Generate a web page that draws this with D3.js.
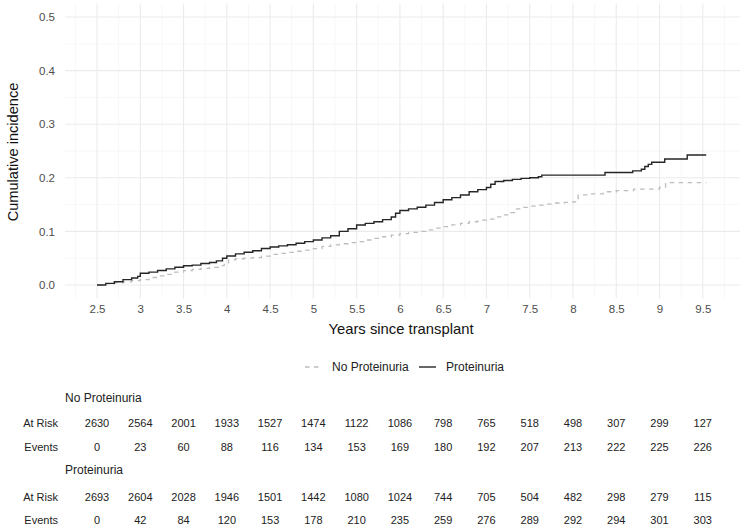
<!DOCTYPE html>
<html>
<head>
<script src="https://cdn.jsdelivr.net/npm/d3@7"></script>
<style>
  body { margin: 0; background: #fff; }
  svg { font-family: "Liberation Sans", Arial, sans-serif; }
</style>
</head>
<body>
<svg id="cif" width="745" height="529"></svg>
<script>
var groups = ["No Proteinuria", "Proteinuria"];
var timeTicks = [2.5, 3, 3.5, 4, 4.5, 5, 5.5, 6, 6.5, 7, 7.5, 8, 8.5, 9, 9.5];
var yTicks = [0, 0.1, 0.2, 0.3, 0.4, 0.5];

// step points
var noProtTime = [2.5, 2.6, 2.7, 2.8, 2.9, 3.0, 3.1, 3.2, 3.3, 3.4, 3.5, 3.6, 3.7, 3.8, 3.9, 3.97, 4.02, 4.1, 4.2, 4.3, 4.4, 4.5, 4.6, 4.7, 4.8, 4.9, 5.0, 5.1, 5.2, 5.3, 5.4, 5.5, 5.6, 5.7, 5.8, 5.9, 6.0, 6.1, 6.2, 6.3, 6.4, 6.5, 6.6, 6.7, 6.8, 6.9, 7.0, 7.1, 7.2, 7.28, 7.35, 7.4, 7.5, 7.6, 7.7, 7.8, 7.9, 8.0, 8.03, 8.06, 8.2, 8.35, 8.5, 8.7, 9.0, 9.07, 9.54];
var noProtCif  = [0, 0.002, 0.004, 0.006, 0.008, 0.010, 0.014, 0.017, 0.020, 0.024, 0.027, 0.029, 0.031, 0.033, 0.036, 0.040, 0.047, 0.049, 0.050, 0.051, 0.054, 0.057, 0.059, 0.061, 0.063, 0.065, 0.068, 0.072, 0.075, 0.077, 0.079, 0.081, 0.084, 0.087, 0.090, 0.093, 0.096, 0.098, 0.100, 0.103, 0.106, 0.109, 0.112, 0.115, 0.118, 0.121, 0.123, 0.127, 0.131, 0.135, 0.142, 0.145, 0.147, 0.149, 0.151, 0.153, 0.154, 0.155, 0.160, 0.168, 0.170, 0.174, 0.176, 0.179, 0.182, 0.191, 0.191];

var protTime = [2.5, 2.6, 2.7, 2.8, 2.9, 2.97, 3.0, 3.1, 3.2, 3.3, 3.4, 3.5, 3.6, 3.7, 3.8, 3.88, 3.95, 4.0, 4.1, 4.2, 4.3, 4.4, 4.5, 4.6, 4.7, 4.8, 4.9, 5.0, 5.1, 5.2, 5.3, 5.4, 5.5, 5.6, 5.7, 5.8, 5.9, 5.95, 6.0, 6.1, 6.2, 6.3, 6.4, 6.5, 6.6, 6.7, 6.8, 6.9, 7.0, 7.05, 7.1, 7.2, 7.3, 7.4, 7.5, 7.6, 7.64, 8.37, 8.69, 8.79, 8.83, 8.87, 8.91, 9.06, 9.32, 9.54];
var protCif  = [0, 0.003, 0.006, 0.010, 0.013, 0.016, 0.022, 0.024, 0.027, 0.030, 0.033, 0.036, 0.037, 0.040, 0.042, 0.045, 0.050, 0.054, 0.058, 0.061, 0.064, 0.068, 0.071, 0.073, 0.075, 0.078, 0.081, 0.084, 0.088, 0.092, 0.100, 0.105, 0.112, 0.115, 0.118, 0.122, 0.127, 0.134, 0.139, 0.142, 0.145, 0.149, 0.154, 0.159, 0.163, 0.168, 0.174, 0.178, 0.182, 0.188, 0.193, 0.195, 0.197, 0.199, 0.200, 0.202, 0.205, 0.210, 0.213, 0.216, 0.221, 0.225, 0.229, 0.235, 0.2425, 0.2425];

var noProtRisk   = [2630, 2564, 2001, 1933, 1527, 1474, 1122, 1086, 798, 765, 518, 498, 307, 299, 127];
var noProtEvents = [0, 23, 60, 88, 116, 134, 153, 169, 180, 192, 207, 213, 222, 225, 226];
var protRisk     = [2693, 2604, 2028, 1946, 1501, 1442, 1080, 1024, 744, 705, 504, 482, 298, 279, 115];
var protEvents   = [0, 42, 84, 120, 153, 178, 210, 235, 259, 276, 289, 292, 294, 301, 303];

var svg = d3.select("#cif");
var x = d3.scaleLinear().domain([2.13, 9.93]).range([65, 740]);
var y = d3.scaleLinear().domain([-0.025, 0.525]).range([298.4, 3.6]);

// grid
var grid = svg.append("g");
var minorX = timeTicks.map(function(t){ return t - 0.25; }).concat([9.75]);
var minorY = yTicks.slice(0, -1).map(function(v){ return v + 0.05; });
grid.selectAll(".mx").data(minorX).enter().append("line")
  .attr("x1", x).attr("x2", x).attr("y1", y.range()[0]).attr("y2", y.range()[1])
  .attr("stroke", "#f2f2f2").attr("stroke-width", 0.6);
grid.selectAll(".my").data(minorY).enter().append("line")
  .attr("x1", x.range()[0]).attr("x2", x.range()[1]).attr("y1", y).attr("y2", y)
  .attr("stroke", "#f2f2f2").attr("stroke-width", 0.6);
grid.selectAll(".gx").data(timeTicks).enter().append("line")
  .attr("x1", x).attr("x2", x).attr("y1", y.range()[0]).attr("y2", y.range()[1])
  .attr("stroke", "#ebebeb").attr("stroke-width", 1.1);
grid.selectAll(".gy").data(yTicks).enter().append("line")
  .attr("x1", x.range()[0]).attr("x2", x.range()[1]).attr("y1", y).attr("y2", y)
  .attr("stroke", "#ebebeb").attr("stroke-width", 1.1);

// axes
var xAxis = svg.append("g").attr("transform", "translate(0," + y.range()[0] + ")")
  .call(d3.axisBottom(x).tickValues(timeTicks).tickSize(0).tickPadding(6.5).tickFormat(d3.format("")));
var yAxis = svg.append("g").attr("transform", "translate(" + x.range()[0] + ",0)")
  .call(d3.axisLeft(y).tickValues(yTicks).tickSize(0).tickPadding(10).tickFormat(d3.format(".1f")));
[xAxis, yAxis].forEach(function(a){
  a.select(".domain").remove();
  a.selectAll("text").attr("fill", "#4d4d4d").style("font-size", "11.5px")
    .style("font-family", "'Liberation Sans', Arial, sans-serif");
});

svg.append("text").attr("x", 401).attr("y", 334).attr("text-anchor", "middle")
  .style("font-size", "14.8px").attr("fill", "#111").text("Years since transplant");
svg.append("text").attr("transform", "translate(18,152) rotate(-90)").attr("text-anchor", "middle")
  .style("font-size", "14.6px").attr("fill", "#111").text("Cumulative incidence");

// curves
var line = d3.line().curve(d3.curveStepAfter)
  .x(function(d){ return x(d[0]); }).y(function(d){ return y(d[1]); });
var series = [
  { pts: d3.zip(noProtTime, noProtCif), color: "#bdbdbd", dash: "4.5,4.5", width: 1.3 },
  { pts: d3.zip(protTime, protCif), color: "#262626", dash: null, width: 1.4 }
];
svg.selectAll(".curve").data(series).enter().append("path")
  .attr("d", function(d){ return line(d.pts); })
  .attr("fill", "none")
  .attr("stroke", function(d){ return d.color; })
  .attr("stroke-width", function(d){ return d.width; })
  .attr("stroke-dasharray", function(d){ return d.dash; });

// legend
var legendX = [305, 419], legendY = 367;
var lg = svg.selectAll(".lg").data(series).enter().append("g");
lg.append("line")
  .attr("x1", function(d, i){ return legendX[i]; })
  .attr("x2", function(d, i){ return legendX[i] + 17; })
  .attr("y1", legendY).attr("y2", legendY)
  .attr("stroke", function(d){ return d.color; })
  .attr("stroke-width", function(d){ return d.width; })
  .attr("stroke-dasharray", function(d){ return d.dash; });
lg.append("text")
  .attr("x", function(d, i){ return legendX[i] + 27; })
  .attr("y", legendY).attr("dy", "0.35em")
  .style("font-size", "12px").attr("fill", "#222")
  .text(function(d, i){ return groups[i]; });

// risk table
var table = [
  { name: groups[0], y: 398, rows: [["At Risk", noProtRisk, 423], ["Events", noProtEvents, 447]] },
  { name: groups[1], y: 470, rows: [["At Risk", protRisk, 497], ["Events", protEvents, 520]] }
];
table.forEach(function(block){
  svg.append("text").attr("x", 65).attr("y", block.y).attr("dy", "0.35em")
    .style("font-size", "12px").attr("fill", "#222").text(block.name);
  block.rows.forEach(function(r){
    svg.append("text").attr("x", 58).attr("y", r[2]).attr("dy", "0.35em")
      .attr("text-anchor", "end").style("font-size", "11px").attr("fill", "#222").text(r[0]);
    svg.selectAll(null).data(r[1]).enter().append("text")
      .attr("x", function(d, i){ return x(timeTicks[i]); })
      .attr("y", r[2]).attr("dy", "0.35em").attr("text-anchor", "middle")
      .style("font-size", "11px").attr("fill", "#222")
      .text(function(d){ return d; });
  });
});
</script>
</body>
</html>
